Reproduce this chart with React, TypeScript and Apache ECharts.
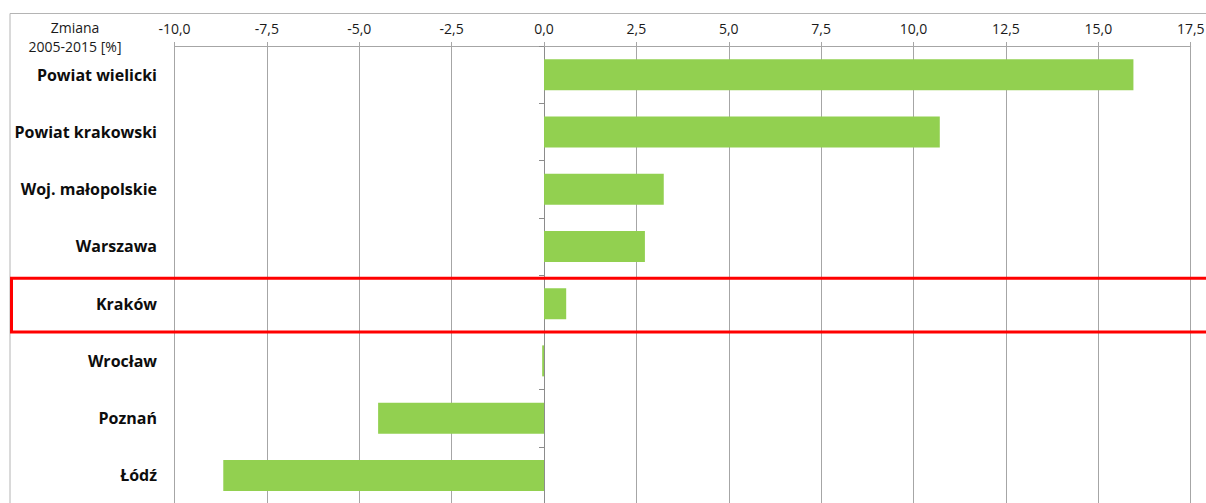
import React, { useEffect, useRef } from "react";
import * as echarts from "echarts";

const categories = [
  "Powiat wielicki",
  "Powiat krakowski",
  "Woj. małopolskie",
  "Warszawa",
  "Kraków",
  "Wrocław",
  "Poznań",
  "Łódź",
];
const changeValues = [15.95, 10.71, 3.24, 2.73, 0.6, -0.05, -4.49, -8.68];
const axisMin = -10;
const axisMax = 17.5;
const axisStep = 2.5;
const titleLines = ["Zmiana", "2005-2015 [%]"];

export default function App() {
  const ref = useRef<HTMLDivElement>(null);
  useEffect(() => {
    if (!ref.current) return;
    const chart = echarts.init(ref.current, null, { renderer: "svg" });
    const gridLeft = 174.5;
    const gridRight = 15.3;
    const labelFont = "'Open Sans', 'Liberation Sans', Arial, sans-serif";
    chart.setOption({
      animation: false,
      backgroundColor: "#ffffff",
      grid: {
        left: gridLeft,
        right: gridRight,
        top: 46,
        bottom: -1,
        containLabel: false,
        outerBoundsMode: "none",
      },
      xAxis: {
        type: "value",
        position: "top",
        min: axisMin,
        max: axisMax,
        interval: axisStep,
        axisLine: { show: true, lineStyle: { color: "#a6a6a6", width: 1 } },
        axisTick: { show: true, length: 4, lineStyle: { color: "#a6a6a6" } },
        splitLine: { show: true, lineStyle: { color: "#a6a6a6", width: 1 } },
        axisLabel: {
          margin: 11,
          color: "#1a1a1a",
          fontSize: 14,
          fontFamily: labelFont,
          formatter: (v: number) => v.toFixed(1).replace(".", ","),
        },
      },
      yAxis: {
        type: "category",
        inverse: true,
        data: categories,
        axisLine: { show: true, onZero: true, lineStyle: { color: "#8c8c8c", width: 1 } },
        axisTick: { show: true, length: 5, lineStyle: { color: "#8c8c8c" } },
        splitLine: { show: false },
        axisLabel: {
          margin: gridLeft - 157,
          color: "#0d0d0d",
          fontSize: 16,
          fontWeight: "bold",
          fontFamily: labelFont,
        },
      },
      series: [
        {
          type: "bar",
          data: changeValues,
          barWidth: 31,
          itemStyle: { color: "#92d050" },
        },
      ],
      graphic: [
        {
          type: "rect",
          shape: { x: 10, y: 13.5, width: 1300, height: 600 },
          style: { fill: "none", stroke: "#b4b4b4", lineWidth: 1 },
          silent: true,
          z: 0,
        },
        {
          type: "text",
          x: 75,
          y: 27,
          style: {
            text: titleLines[0],
            fontSize: 14,
            fontFamily: labelFont,
            fill: "#1a1a1a",
            align: "center",
            verticalAlign: "middle",
          },
        },
        {
          type: "text",
          x: 75,
          y: 46,
          style: {
            text: titleLines[1],
            fontSize: 14,
            fontFamily: labelFont,
            fill: "#1a1a1a",
            align: "center",
            verticalAlign: "middle",
          },
        },
        {
          type: "rect",
          shape: { x: 11.5, y: 278.3, width: 1220, height: 53.7 },
          style: { fill: "none", stroke: "#ff0000", lineWidth: 3 },
          silent: true,
          z: 100,
        },
      ],
    });
    return () => chart.dispose();
  }, []);
  return (
    <div
      ref={ref}
      style={{ position: "fixed", left: 0, top: 0, width: 1206, height: 503 }}
    />
  );
}
